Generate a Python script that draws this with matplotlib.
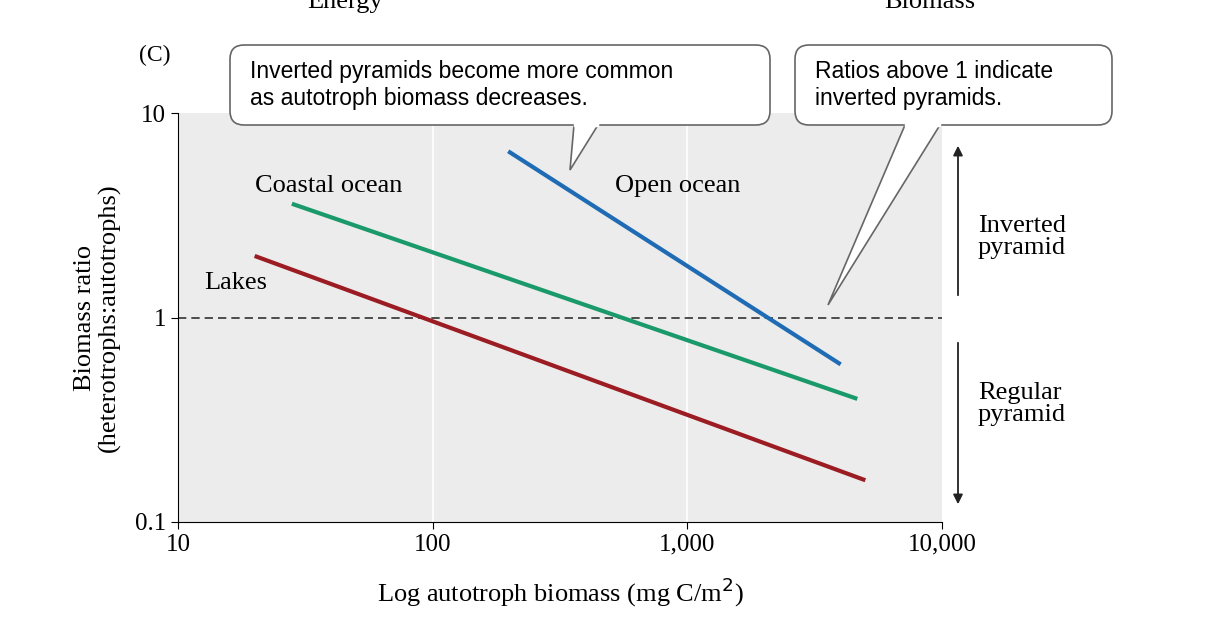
import numpy as np
import matplotlib.pyplot as plt
from matplotlib.patches import FancyBboxPatch, Polygon

serif = 'Liberation Serif'
sans = 'Liberation Sans'

# line end points (x: mg C/m2, y: ratio)
lakes_x = [20, 5000]
lakes_y = [2.0, 0.16]
coastal_x = [28, 4650]
coastal_y = [3.6, 0.40]
open_x = [198, 4000]
open_y = [6.5, 0.59]

fig = plt.figure(figsize=(12.16, 6.22), dpi=100)
ax = fig.add_axes([178/1216, 1-522/622, (942-178)/1216, (522-113)/622])
ax.set_facecolor('#ececec')
ax.set_xscale('log')
ax.set_yscale('log')
ax.set_xlim(10, 10000)
ax.set_ylim(0.1, 10)
for v in [100, 1000]:
    ax.axvline(v, color='white', lw=1.2, zorder=1)
ax.axhline(1, color='#333333', lw=1.2, ls=(0, (5, 3)), zorder=2)

ax.plot(lakes_x, lakes_y, color='#9b1c22', lw=3, zorder=3, solid_capstyle='butt')
ax.plot(coastal_x, coastal_y, color='#1a9a6a', lw=3, zorder=3, solid_capstyle='butt')
ax.plot(open_x, open_y, color='#1f6cb5', lw=3, zorder=3, solid_capstyle='butt')

ax.text(12.7, 1.47, 'Lakes', fontfamily=serif, fontsize=19, va='center')
ax.text(20, 4.4, 'Coastal ocean', fontfamily=serif, fontsize=19, va='center')
ax.text(520, 4.4, 'Open ocean', fontfamily=serif, fontsize=19, va='center')

ax.set_xticks([10, 100, 1000, 10000])
ax.set_xticklabels(['10', '100', '1,000', '10,000'])
ax.set_yticks([0.1, 1, 10])
ax.set_yticklabels(['0.1', '1', '10'])
ax.minorticks_off()
ax.tick_params(direction='out', length=5, labelsize=18)
for lab in ax.get_xticklabels() + ax.get_yticklabels():
    lab.set_fontfamily(serif)
for s in ['top', 'right']:
    ax.spines[s].set_visible(False)
ax.set_xlabel('Log autotroph biomass (mg C/m$^2$)', fontfamily=serif, fontsize=19, labelpad=14)
ax.set_ylabel('Biomass ratio\n(heterotrophs:autotrophs)', fontfamily=serif, fontsize=19, labelpad=10,
              linespacing=1.1)

# overlay in pixel coordinates for callouts and annotations
ov = fig.add_axes([0, 0, 1, 1], facecolor='none')
ov.set_xlim(0, 1216)
ov.set_ylim(622, 0)
ov.axis('off')

ov.text(345, 2, 'Energy', fontfamily=serif, fontsize=19, ha='center', va='center')
ov.text(930, 2, 'Biomass', fontfamily=serif, fontsize=19, ha='center', va='center')
ov.text(155, 55, '(C)', fontfamily=serif, fontsize=17, ha='center', va='center')

def callout(x0, x1, y0, y1, base, tip, text):
    ov.add_patch(FancyBboxPatch((x0, y0), x1-x0, y1-y0, boxstyle='round,pad=0,rounding_size=14',
                                fc='white', ec='#666666', lw=1.2, zorder=5))
    ov.add_patch(Polygon([(base[0], y1), tip, (base[1], y1)], closed=False,
                         fc='white', ec='#666666', lw=1.2, zorder=6))
    ov.plot([base[0]+1, base[1]-1], [y1, y1], color='white', lw=2.5, zorder=7)
    ov.text(x0+20, (y0+y1)/2, text, fontfamily=sans, fontsize=16.5, va='center', zorder=8,
            linespacing=1.25)

callout(230, 770, 45, 125, (574, 598), (570, 170),
        'Inverted pyramids become more common\nas autotroph biomass decreases.')
callout(795, 1112, 45, 125, (905, 940), (828, 305),
        'Ratios above 1 indicate\ninverted pyramids.')

ov.annotate('', xy=(958, 143), xytext=(958, 298),
            arrowprops=dict(arrowstyle='-|>', color='#222222', lw=1.3, mutation_scale=14))
ov.annotate('', xy=(958, 507), xytext=(958, 340),
            arrowprops=dict(arrowstyle='-|>', color='#222222', lw=1.3, mutation_scale=14))
ov.text(978, 237, 'Inverted\npyramid', fontfamily=serif, fontsize=19, va='center', linespacing=1.05)
ov.text(978, 404, 'Regular\npyramid', fontfamily=serif, fontsize=19, va='center', linespacing=1.05)

fig.savefig('out.png', dpi=100)
